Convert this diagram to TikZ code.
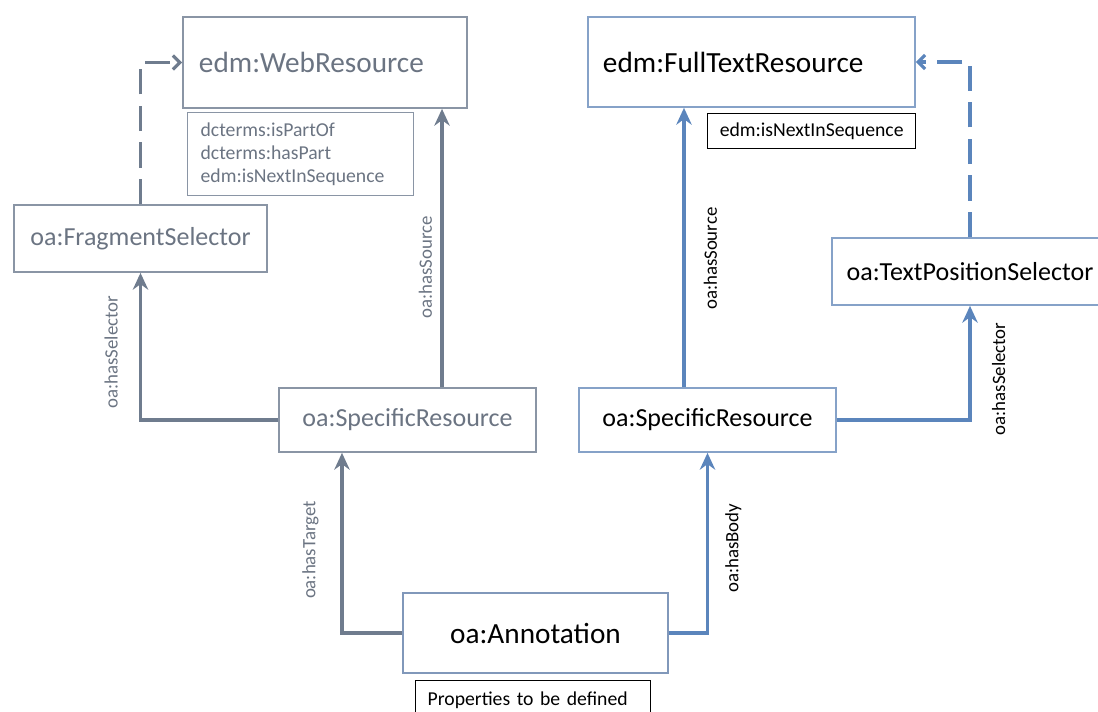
\documentclass[tikz,border=0pt]{standalone}
\usepackage{fontspec}
\setmainfont{Carlito}
\usetikzlibrary{arrows.meta}
\definecolor{wrline}{HTML}{6F7C8E}
\definecolor{wrdraw}{HTML}{8A95A5}
\definecolor{wrtext}{HTML}{6B7482}
\definecolor{ftline}{HTML}{5B85BC}
\definecolor{ftdraw}{HTML}{86A2C8}
\definecolor{anndraw}{HTML}{8198BA}

\begin{document}
\begin{tikzpicture}[
  x=0.025cm, y=-0.025cm,
  box/.style={
    rectangle, draw, line width=1.2pt, fill=white,
    inner sep=0pt, align=center
  },
  graybox/.style={box, draw=wrdraw, text=wrtext},
  bluebox/.style={box, draw=ftdraw, text=black},
  bigfont/.style={font=\fontsize{20.8}{24}\selectfont},
  midfont/.style={font=\fontsize{18.5}{22}\selectfont},
  propbox/.style={
    rectangle, draw, line width=0.9pt, inner sep=0pt, anchor=north west,
    font=\fontsize{14}{16.3}\selectfont, align=left
  },
  arr/.style={-{Stealth[length=12pt,width=11pt,inset=4pt]}, line width=2.2pt},
  dasharr/.style={-{Straight Barb[length=5pt,width=10pt]}, line width=2.2pt,
    dash pattern=on 18pt off 8pt},
  lbl/.style={font=\fontsize{13.4}{15}\selectfont, rotate=90, inner sep=0pt},
]
  \useasboundingbox (0,0) rectangle (1098,711);

  % Target side (web resource)
  \node[graybox, bigfont, minimum width=7.1cm, minimum height=2.275cm,
        text width=6.3cm, align=left] (web) at (325,62.5) {edm:WebResource};
  \node[propbox, draw=wrdraw, text=wrtext, minimum width=5.65cm,
        minimum height=2.075cm, text width=5.0cm] (webprops) at (187,112)
        {dcterms:isPartOf\\dcterms:hasPart\\edm:isNextInSequence};
  \node[graybox, midfont, minimum width=6.325cm, minimum height=1.675cm]
        (frag) at (140.5,238.5) {oa:FragmentSelector};
  \node[graybox, midfont, minimum width=6.425cm, minimum height=1.6cm]
        (srL) at (407.5,420) {oa:SpecificResource};

  % Body side (full text resource)
  \node[bluebox, bigfont, minimum width=8.175cm, minimum height=2.25cm,
        text width=7.425cm, align=left] (ftr) at (751.5,62) {edm:FullTextResource};
  \node[propbox, draw=black, minimum width=5.2cm, minimum height=0.875cm,
        text width=5.2cm, align=center] (ftrprops) at (707,113) {edm:isNextInSequence};
  \node[bluebox, midfont, minimum width=6.9cm, minimum height=1.675cm]
        (tps) at (970,271.5) {oa:TextPositionSelector};
  \node[bluebox, midfont, minimum width=6.425cm, minimum height=1.6cm]
        (srR) at (707.5,420) {oa:SpecificResource};

  % Annotation
  \node[box, draw=anndraw, bigfont, minimum width=6.625cm, minimum height=2.0cm]
        (ann) at (535.5,633) {oa:Annotation};
  \node[propbox, draw=black, minimum width=5.875cm, minimum height=1.0cm,
        text width=5.275cm] (annprops) at (415,680) {Properties to be defined};

  \coordinate (srLtop) at ([xshift=0.8625cm]srL.north);
  \coordinate (srLbot) at ([xshift=-1.6375cm]srL.south);
  \coordinate (srRtop) at ([xshift=-0.5875cm]srR.north);

  % Target arrows
  \draw[arr, wrline] (ann.west) -| (srLbot)
    node[lbl, pos=0.73, anchor=south, inner ysep=15.5pt, text=wrtext] {oa:hasTarget};
  \draw[arr, wrline] (srL.west) -| (frag.south)
    node[lbl, pos=0.73, anchor=south, inner ysep=15pt, text=wrtext] {oa:hasSelector};
  \draw[arr, wrline] (srLtop) -- (srLtop |- web.south)
    node[lbl, pos=0.43, anchor=south, inner ysep=6pt, text=wrtext] {oa:hasSource};
  \draw[dasharr, wrline] (frag.north) |- (web.west);

  % Body arrows
  \draw[arr, ftline] (ann.east) -| (srR.south)
    node[lbl, pos=0.735, anchor=north, inner ysep=11.5pt, text=black] {oa:hasBody};
  \draw[arr, ftline] (srR.east) -| (tps.south)
    node[lbl, pos=0.68, anchor=north, inner ysep=14.5pt, text=black] {oa:hasSelector};
  \draw[arr, ftline] (srRtop) -- (srRtop |- ftr.south)
    node[lbl, pos=0.46, anchor=north, inner ysep=13pt, text=black] {oa:hasSource};
  \draw[dasharr, ftline] (tps.north) |- (ftr.east);
\end{tikzpicture}
\end{document}
